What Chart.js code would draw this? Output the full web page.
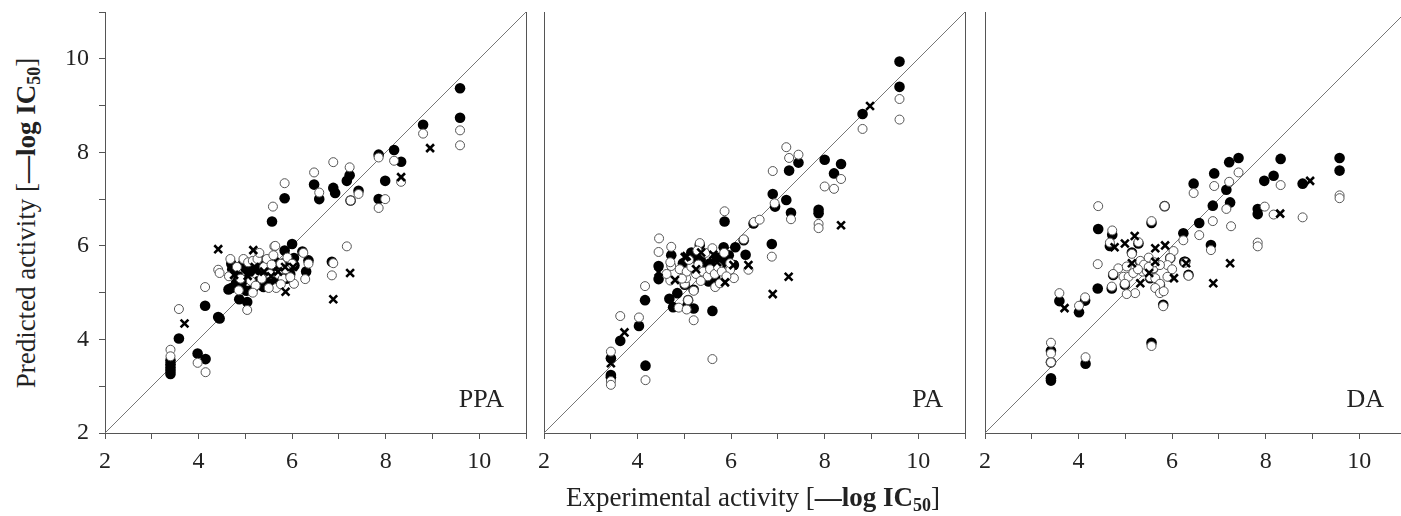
<!DOCTYPE html>
<html>
<head>
<meta charset="utf-8">
<script src="https://cdn.jsdelivr.net/npm/chart.js@4.4.1/dist/chart.umd.min.js"></script>
<style>
  html, body { margin: 0; padding: 0; background: #fff; }
  body { width: 1401px; height: 516px; overflow: hidden; position: relative; font-family: "Liberation Serif", serif; color: #222; }
  canvas { position: absolute; top: 0; }
  .title { position: absolute; font-size: 27px; white-space: nowrap; line-height: 1; }
  .title sub { font-size: 18px; vertical-align: -5px; line-height: 0; }
  #ytitle { left: 26px; top: 223px; transform: translate(-50%, -50%) rotate(-90deg); }
  #xtitle { left: 753px; top: 497px; transform: translate(-50%, -50%); }
</style>
</head>
<body>
<canvas id="chart-ppa" width="481" height="480" style="left:55px"></canvas>
<canvas id="chart-pa" width="481" height="480" style="left:494px"></canvas>
<canvas id="chart-da" width="481" height="480" style="left:935px"></canvas>
<div class="title" id="ytitle">Predicted activity [<b>—log IC<sub>50</sub></b>]</div>
<div class="title" id="xtitle">Experimental activity [<b>—log IC<sub>50</sub></b>]</div>
<script>
// axis ticks
const tickValues = [2, 3, 4, 5, 6, 7, 8, 9, 10, 11];
const tickLabels = [2, 4, 6, 8, 10];
const diagonal = [2, 11];

// PPA: [experimental, predicted]
const ppaFilled = [[9.59,9.37],[9.59,8.74],[8.80,8.59],[8.18,8.05],[8.33,7.80],[7.85,7.95],[7.99,7.39],[7.85,7.00],[7.42,7.18],[7.23,7.51],[7.17,7.39],[7.25,6.97],[6.88,7.24],[6.92,7.13],[6.47,7.31],[6.58,7.00],[5.84,7.02],[5.57,6.52],[6.00,6.04],[5.84,5.90],[6.04,5.74],[6.22,5.88],[6.35,5.69],[6.30,5.45],[6.85,5.66],[4.64,5.07],[4.87,4.86],[5.04,4.80],[4.14,4.72],[4.42,4.48],[4.45,4.45],[3.58,4.02],[3.98,3.70],[4.15,3.58],[3.40,3.55],[3.40,3.47],[3.40,3.40],[3.40,3.33],[3.40,3.26],
  [4.70,5.62],[4.72,5.50],[4.76,5.40],[4.80,5.20],[4.88,5.14],[4.95,5.62],[5.00,5.52],[5.05,5.30],[5.10,5.45],[5.17,5.10],[5.22,5.58],[5.30,5.48],[5.36,5.15],[5.42,5.35],[5.46,5.60],[5.50,5.24],[5.56,5.45],[5.62,5.68],[5.64,5.30],[5.70,5.54],[5.76,5.36],[5.82,5.45],[5.92,5.55],[5.96,5.40],[5.58,5.15],[5.02,5.04],[4.70,5.10],[5.39,5.12],
  [4.85,5.35],[5.12,5.62],[5.28,5.25],[5.48,5.50],[5.68,5.22],[5.88,5.30],[6.05,5.58],[5.34,5.70],[4.92,5.20],[5.80,5.62]];
const ppaOpen = [[9.59,8.47],[9.59,8.15],[8.80,8.40],[8.18,7.82],[8.33,7.37],[7.85,7.89],[7.85,6.81],[7.99,7.00],[7.42,7.11],[7.23,7.68],[7.25,6.97],[6.88,7.79],[6.88,5.63],[6.85,5.37],[7.17,5.99],[6.47,7.57],[6.58,7.14],[5.84,7.34],[5.59,6.84],[5.62,5.99],[4.42,5.49],[4.45,5.42],[4.14,5.12],[3.58,4.65],[5.04,4.63],[3.40,3.78],[3.40,3.64],[3.98,3.50],[4.15,3.30],[6.28,5.29],[6.04,5.19],[6.24,5.85],[6.35,5.62],[5.64,6.00],
  [4.68,5.72],[4.65,5.35],[4.82,5.55],[4.90,5.30],[4.96,5.72],[5.06,5.65],[5.12,5.25],[5.16,5.68],[5.26,5.72],[5.30,5.85],[5.35,5.30],[5.40,5.55],[5.46,5.72],[5.52,5.40],[5.56,5.60],[5.60,5.80],[5.66,5.10],[5.70,5.40],[5.76,5.62],[5.80,5.30],[5.86,5.50],[5.90,5.75],[5.96,5.33],[6.00,5.62],[5.22,5.15],[4.86,5.05],[5.50,5.10],[5.76,5.18],[5.16,5.00]];
const ppaCross = [[8.95,8.09],[8.33,7.47],[7.24,5.42],[6.88,4.86],[4.42,5.93],[5.17,5.91],[3.70,4.34],[5.86,5.02],[4.76,5.38],[5.05,5.36],[5.20,5.55],[5.40,5.45],[5.55,5.35],[5.70,5.45],[5.85,5.55],[6.02,5.55]];

// PA
const paFilled = [[9.60,9.94],[9.60,9.40],[8.81,8.82],[8.00,7.84],[8.35,7.75],[8.20,7.55],[7.44,7.78],[7.24,7.61],[6.89,7.11],[6.94,6.84],[7.18,6.98],[7.28,6.71],[7.87,6.77],[7.87,6.70],[5.86,6.52],[6.48,6.48],[6.27,6.12],[6.87,6.04],[6.09,5.97],[5.84,5.97],[6.31,5.81],[6.06,5.59],[5.77,5.56],[5.84,5.66],[4.72,5.80],[4.45,5.57],[4.45,5.29],[4.16,4.84],[3.63,3.97],[4.03,4.29],[3.43,3.60],[3.43,3.24],[3.43,3.19],[4.17,3.44],[5.60,4.61],[5.20,4.66],[5.06,4.71],[4.76,4.69],[4.68,4.87],[4.85,4.99],[5.08,4.84],[5.01,5.17],[5.20,5.06],[4.97,5.63],[5.15,5.86],[5.33,6.02],[5.24,5.74],[5.55,5.63],[5.66,5.31],[5.52,5.24],[5.35,5.70],[5.45,5.55],[5.70,5.75],[5.95,5.80]];
const paOpen = [[9.60,9.14],[9.60,8.70],[8.81,8.50],[8.35,7.43],[8.00,7.27],[8.20,7.22],[7.18,8.11],[7.24,7.88],[7.44,7.95],[6.89,7.60],[6.93,6.91],[7.28,6.57],[7.87,6.47],[7.87,6.38],[5.86,6.74],[6.49,6.51],[6.61,6.56],[6.27,6.14],[6.87,5.77],[6.37,5.49],[4.46,6.16],[4.45,5.87],[4.72,5.98],[4.72,5.57],[4.16,5.14],[3.63,4.50],[4.03,4.47],[3.43,3.74],[3.43,3.11],[3.43,3.03],[4.17,3.13],[5.60,3.58],[5.20,4.41],[4.88,4.68],[5.05,4.64],[5.08,4.84],[5.01,5.19],[5.20,5.04],[4.70,5.26],[5.04,5.31],[5.33,6.06],[5.66,5.12],[6.06,5.31],[5.98,5.49],[5.98,5.63],
  [4.70,5.65],[4.90,5.50],[5.05,5.45],[5.15,5.55],[5.25,5.40],[5.30,5.60],[5.40,5.45],[5.45,5.85],[5.50,5.35],[5.55,5.50],[5.60,5.95],[5.65,5.40],[5.72,5.55],[5.80,5.45],[5.85,5.85],[5.90,5.35],[4.62,5.40],[5.10,5.70],[5.35,5.25],[5.76,5.20],[4.95,5.30],[5.28,5.90]];
const paCross = [[8.97,8.99],[8.35,6.44],[7.23,5.34],[6.89,4.97],[3.72,4.15],[3.43,3.49],[4.45,5.44],[5.01,5.76],[5.36,5.86],[5.62,5.81],[5.87,5.22],[6.05,5.59],[6.37,5.59],[4.80,5.27],[5.05,5.78],[5.70,5.65],[5.25,5.50]];

// DA
const daFilled = [[9.58,7.88],[9.58,7.61],[8.79,7.33],[8.32,7.86],[8.17,7.50],[7.97,7.39],[7.83,6.79],[7.83,6.68],[7.42,7.88],[7.22,7.79],[6.90,7.55],[6.46,7.33],[7.16,7.20],[7.24,6.93],[6.87,6.86],[6.58,6.49],[6.24,6.27],[6.83,6.02],[5.56,6.49],[5.28,6.05],[4.42,6.36],[4.72,6.24],[4.67,6.00],[4.41,5.09],[4.71,5.09],[3.59,4.82],[4.01,4.58],[4.14,4.83],[3.41,3.76],[3.41,3.17],[3.41,3.12],[4.15,3.48],[5.56,3.93],[5.81,4.74],[6.26,5.66],[5.14,5.86],[4.74,5.38],[4.99,5.17],[6.28,5.66],[5.84,6.85],[3.41,3.51],[5.32,5.66],[5.53,5.31],[5.74,5.17],[6.35,5.38],[5.96,5.74],[5.60,5.52]];
const daOpen = [[9.58,7.08],[9.58,7.02],[8.79,6.61],[8.32,7.30],[7.98,6.84],[7.83,6.07],[7.83,5.99],[8.17,6.67],[7.42,7.57],[7.22,7.37],[6.90,7.28],[6.46,7.13],[7.16,6.79],[6.87,6.53],[7.26,6.42],[6.58,6.23],[6.24,6.12],[6.83,5.91],[5.84,6.85],[5.56,6.53],[5.28,6.08],[4.42,6.85],[4.72,6.33],[4.67,6.07],[4.41,5.61],[4.71,5.13],[3.59,4.99],[4.01,4.72],[4.14,4.90],[3.41,3.93],[3.41,3.70],[3.41,3.51],[4.15,3.62],[5.56,3.86],[5.81,4.71],[6.35,5.36],[6.03,5.89],[5.96,5.74],[5.93,5.34],[6.28,5.64],
  [4.85,5.52],[5.03,5.56],[4.96,5.34],[5.07,5.34],[5.17,5.42],[4.99,5.19],[5.21,4.99],[5.03,4.97],[5.37,5.45],[5.46,5.46],[5.53,5.33],[5.60,5.52],[5.64,5.31],[5.74,5.19],[5.64,5.10],[5.74,4.99],[5.82,5.03],[5.90,5.59],[6.00,5.50],[5.90,5.34],[5.74,5.59],[5.32,5.68],[5.40,5.60],[4.74,5.40],[5.14,5.83],[5.50,5.75],[5.62,5.65],[5.27,5.50],[5.50,5.55]];
const daCross = [[8.95,7.39],[8.31,6.69],[7.24,5.63],[6.88,5.20],[5.20,6.21],[4.99,6.05],[4.77,5.97],[5.64,5.95],[5.85,6.01],[6.30,5.63],[6.04,5.31],[3.70,4.67],[5.14,5.63],[5.32,5.20],[5.51,5.42],[5.64,5.66]];

const AXIS = "#555";
const TEXT = "#222";
const FONT = "Liberation Serif";

function toPts(arr) {
    return arr.map(p => ({ x: p[0], y: p[1] }));
}

// right-hand frame line and panel name
const framePlugin = {
    id: "frame",
    afterDraw(chart, args, opts) {
        const { ctx, chartArea: a } = chart;
        ctx.save();
        ctx.strokeStyle = AXIS;
        ctx.lineWidth = 1;
        ctx.beginPath();
        ctx.moveTo(Math.round(a.right) + 0.5, a.top);
        ctx.lineTo(Math.round(a.right) + 0.5, a.bottom);
        ctx.stroke();
        ctx.fillStyle = TEXT;
        ctx.font = `26px "${FONT}"`;
        ctx.textAlign = "right";
        ctx.textBaseline = "alphabetic";
        ctx.fillText(opts.text, a.right - 22, a.bottom - 26);
        ctx.restore();
    }
};

function setTicks(scale) {
    scale.ticks = tickValues.map(v => ({ value: v }));
}

function renderPanel(id, filled, open, crosses, name, showY) {
    const ctx = document.getElementById(id).getContext("2d");
    new Chart(ctx, {
        type: "scatter",
        data: {
            datasets: [
                { data: toPts(crosses), pointStyle: "crossRot", pointRadius: 5.5, borderColor: "#000", borderWidth: 2.6, order: 0 },
                { data: toPts(open), pointStyle: "circle", pointRadius: 4.5, backgroundColor: "#fff", borderColor: "#555", borderWidth: 1, order: 1 },
                { data: toPts(filled), pointStyle: "circle", pointRadius: 5.3, backgroundColor: "#000", borderColor: "#000", borderWidth: 0, order: 2 },
                { type: "line", data: diagonal.map(v => ({ x: v, y: v })), showLine: true, borderColor: "#777", borderWidth: 1, pointRadius: 0, order: 3 }
            ]
        },
        options: {
            responsive: false,
            animation: false,
            devicePixelRatio: 1,
            events: [],
            layout: { padding: { top: 12, right: 10, left: 0, bottom: 0 } },
            plugins: {
                legend: { display: false },
                tooltip: { enabled: false },
                frame: { text: name }
            },
            scales: {
                x: {
                    type: "linear", min: 2, max: 11,
                    afterBuildTicks: setTicks,
                    afterFit: s => { s.height = 47; s.paddingLeft = 0; s.paddingRight = 0; },
                    ticks: {
                        autoSkip: false, maxRotation: 0, padding: 8, color: TEXT,
                        font: { family: FONT, size: 24 },
                        callback: v => tickLabels.includes(v) ? String(v) : ""
                    },
                    grid: { drawOnChartArea: false, drawTicks: true, tickLength: 6, color: AXIS },
                    border: { display: true, color: AXIS, width: 1 }
                },
                y: {
                    type: "linear", min: 2, max: 11,
                    afterBuildTicks: setTicks,
                    afterFit: s => { s.width = 50; s.paddingTop = 0; s.paddingBottom = 0; },
                    ticks: {
                        display: showY, autoSkip: false, padding: 10, color: TEXT,
                        font: { family: FONT, size: 24 },
                        callback: v => tickLabels.includes(v) ? String(v) : ""
                    },
                    grid: { display: showY, drawOnChartArea: false, drawTicks: true, tickLength: 6, color: AXIS },
                    border: { display: true, color: AXIS, width: 1 }
                }
            }
        },
        plugins: [framePlugin]
    });
}

renderPanel("chart-ppa", ppaFilled, ppaOpen, ppaCross, "PPA", true);
renderPanel("chart-pa", paFilled, paOpen, paCross, "PA", false);
renderPanel("chart-da", daFilled, daOpen, daCross, "DA", false);
</script>
</body>
</html>
